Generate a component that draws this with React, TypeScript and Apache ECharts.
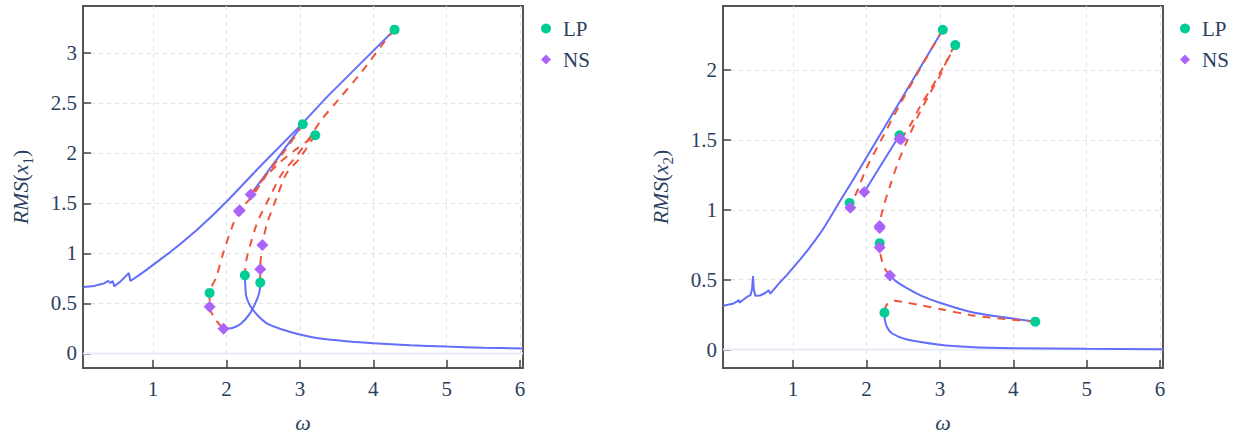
import React, { useEffect, useRef } from "react";
import * as echarts from "echarts";

const X_MIN = 0.045;
const X_MAX = 6.04;
const Y1_MIN = -0.145;
const Y1_MAX = 3.47;
const Y2_MIN = -0.132;
const Y2_MAX = 2.46;

const BLUE = "#636efa";
const RED = "#EF553B";
const GREEN = "#00cc96";
const PURPLE = "#ab63fa";
const FONT_COLOR = "#2a3f5f";
const SERIF = "Liberation Serif";

// ---------- Panel 1 : RMS(x1) ----------
const p1StableMain = [
  [0.05, 0.665], [0.2, 0.675], [0.27, 0.688], [0.33, 0.7], [0.39, 0.724], [0.42, 0.705],
  [0.45, 0.724], [0.47, 0.672], [0.55, 0.715], [0.67, 0.803], [0.69, 0.724], [0.8, 0.778],
  [0.9, 0.83], [1.0, 0.885], [1.1, 0.94], [1.23, 1.01], [1.4, 1.11], [1.6, 1.235],
  [1.82, 1.385], [2.02, 1.53], [2.46, 1.87], [3.0, 2.27], [3.38, 2.57], [4.29, 3.234],
];
const p1StableUpper = [[2.33, 1.587], [3.04, 2.29]];
const p1StableLoop = [
  [2.46, 0.708], [2.45, 0.62], [2.41, 0.53], [2.32, 0.4], [2.2, 0.3], [2.08, 0.255], [1.96, 0.247],
];
const p1StableTail = [
  [2.25, 0.78], [2.255, 0.7], [2.27, 0.57], [2.32, 0.48], [2.4, 0.4], [2.55, 0.3], [2.77, 0.237],
  [3.0, 0.19], [3.23, 0.154], [3.68, 0.12], [4.0, 0.103], [4.5, 0.083], [5.0, 0.069],
  [5.5, 0.058], [6.04, 0.05],
];
const p1Unstable1 = [
  [4.29, 3.234], [4.16, 3.12], [3.84, 2.81], [3.52, 2.53], [3.29, 2.33], [3.11, 2.13],
  [2.93, 1.95], [2.76, 1.8], [2.58, 1.55], [2.47, 1.39], [2.41, 1.29], [2.33, 1.1],
  [2.27, 0.93], [2.25, 0.78],
];
const p1Unstable2 = [
  [3.04, 2.29], [3.0, 2.24], [2.81, 2.04], [2.56, 1.8], [2.34, 1.56], [2.18, 1.43],
  [2.09, 1.29], [1.95, 0.99], [1.86, 0.76], [1.77, 0.605], [1.77, 0.467], [1.85, 0.34], [1.96, 0.247],
];
const p1Unstable3 = [
  [2.33, 1.587], [2.5, 1.74], [2.7, 1.89], [2.93, 2.03], [3.1, 2.12], [3.21, 2.18],
];
const p1Unstable4 = [
  [3.21, 2.18], [3.09, 2.05], [3.0, 1.95], [2.82, 1.8], [2.68, 1.55], [2.55, 1.29],
  [2.49, 1.083], [2.46, 0.84], [2.46, 0.708],
];
const p1LP = [[4.29, 3.234], [3.04, 2.29], [3.21, 2.18], [1.77, 0.605], [2.25, 0.78], [2.46, 0.708]];
const p1NS = [[2.33, 1.587], [2.18, 1.43], [2.17, 1.42], [1.77, 0.467], [1.96, 0.247], [2.46, 0.84], [2.49, 1.083]];

// ---------- Panel 2 : RMS(x2) ----------
const p2StableMain = [
  [0.05, 0.314], [0.19, 0.33], [0.24, 0.345], [0.26, 0.354], [0.27, 0.336], [0.33, 0.36],
  [0.37, 0.377], [0.42, 0.39], [0.44, 0.43], [0.454, 0.526], [0.465, 0.43], [0.486, 0.385],
  [0.55, 0.387], [0.62, 0.405], [0.667, 0.425], [0.69, 0.4], [0.826, 0.484], [0.92, 0.537],
  [1.007, 0.59], [1.1, 0.648], [1.2, 0.712], [1.3, 0.782], [1.4, 0.856], [1.5, 0.94],
  [1.6, 1.03], [1.7, 1.115], [1.8, 1.2], [3.04, 2.29],
];
const p2StableUpper = [[1.97, 1.128], [2.45, 1.534]];
const p2StableMid = [
  [2.32, 0.531], [2.4, 0.49], [2.55, 0.44], [2.75, 0.385], [3.0, 0.335], [3.41, 0.271],
  [3.82, 0.235], [4.3, 0.2],
];
const p2StableTail = [
  [2.245, 0.264], [2.25, 0.215], [2.28, 0.16], [2.35, 0.115], [2.55, 0.072], [3.0, 0.035],
  [3.41, 0.019], [4.0, 0.01], [5.0, 0.005], [6.04, 0.003],
];
const p2Unstable1 = [
  [4.3, 0.2], [3.82, 0.222], [3.41, 0.248], [3.0, 0.29], [2.73, 0.318], [2.5, 0.34],
  [2.37, 0.349], [2.3, 0.335], [2.26, 0.305], [2.245, 0.264],
];
const p2Unstable2 = [
  [3.04, 2.29], [2.96, 2.22], [2.73, 2.01], [2.46, 1.76], [2.2, 1.5], [2.0, 1.3],
  [1.87, 1.13], [1.82, 1.08], [1.77, 1.05], [1.78, 1.015],
];
const p2Unstable3 = [
  [2.47, 1.506], [2.59, 1.6], [2.73, 1.74], [2.87, 1.86], [3.0, 1.98], [3.12, 2.09], [3.21, 2.18],
];
const p2Unstable4 = [
  [3.21, 2.18], [3.14, 2.12], [3.0, 1.96], [2.87, 1.84], [2.71, 1.68], [2.55, 1.49],
  [2.43, 1.34], [2.32, 1.17], [2.22, 1.0], [2.18, 0.885], [2.18, 0.762], [2.18, 0.73],
  [2.21, 0.637], [2.25, 0.578], [2.32, 0.531],
];
const p2LP = [[4.3, 0.2], [3.04, 2.29], [3.21, 2.18], [1.77, 1.05], [2.18, 0.762], [2.245, 0.264], [2.45, 1.534]];
const p2NS = [[2.47, 1.506], [2.45, 1.51], [1.97, 1.128], [1.78, 1.015], [2.18, 0.885], [2.18, 0.87], [2.18, 0.73], [2.32, 0.531]];

const zeroLine = [[X_MIN, 0], [X_MAX, 0]];

function stable(data: number[][], gi: number, smooth: number | boolean = false) {
  return {
    type: "line", xAxisIndex: gi, yAxisIndex: gi, data, showSymbol: false, symbol: "none",
    smooth, silent: true, z: 3, lineStyle: { color: BLUE, width: 2 }, itemStyle: { color: BLUE },
  };
}
function unstable(data: number[][], gi: number) {
  return {
    type: "line", xAxisIndex: gi, yAxisIndex: gi, data, showSymbol: false, symbol: "none",
    smooth: 0.3, silent: true, z: 4, lineStyle: { color: RED, width: 2, type: [8, 7] }, itemStyle: { color: RED },
  };
}
function zero(gi: number) {
  return {
    type: "line", xAxisIndex: gi, yAxisIndex: gi, data: zeroLine, showSymbol: false, symbol: "none",
    silent: true, z: 1, lineStyle: { color: "#e6ecf6", width: 2 },
  };
}
function lp(data: number[][], gi: number) {
  return {
    type: "scatter", name: "LP", xAxisIndex: gi, yAxisIndex: gi, data, symbol: "circle",
    symbolSize: 10, z: 6, itemStyle: { color: GREEN, opacity: 1 },
  };
}
function ns(data: number[][], gi: number) {
  return {
    type: "scatter", name: "NS", xAxisIndex: gi, yAxisIndex: gi, data, symbol: "diamond",
    symbolSize: 12, z: 7, itemStyle: { color: PURPLE, opacity: 1 },
  };
}

const tickLabel = { fontFamily: SERIF, fontSize: 21, color: FONT_COLOR };
const splitLine = {
  show: true, showMinLine: false, showMaxLine: false,
  lineStyle: { type: [4, 4], color: "#e2e2e2", width: 1 },
};
const axisTick = { show: true, inside: true, length: 8, lineStyle: { color: "#444", width: 1.5 } };

function xAxis(gi: number) {
  return {
    type: "value", gridIndex: gi, min: X_MIN, max: X_MAX, splitNumber: 6,
    axisLine: { show: true, onZero: false, lineStyle: { color: "#555", width: 2 } },
    axisTick, splitLine,
    axisLabel: { ...tickLabel, margin: 10, showMinLabel: false, showMaxLabel: false },
    name: "ω", nameLocation: "middle", nameGap: 43,
    nameTextStyle: { fontFamily: SERIF, fontSize: 22, fontStyle: "italic", color: FONT_COLOR },
  };
}
function yAxis(gi: number, min: number, max: number, split: number, sub: string) {
  const base = { fontFamily: SERIF, fontSize: 22, color: FONT_COLOR, lineHeight: 30 };
  return {
    type: "value", gridIndex: gi, min, max, splitNumber: split,
    axisLine: { show: true, onZero: false, lineStyle: { color: "#555", width: 2 } },
    axisTick, splitLine,
    axisLabel: { ...tickLabel, margin: 6, showMinLabel: false, showMaxLabel: false },
    name: `{i|RMS}{r|(}{i|x}{s|${sub}}{r|)}`, nameLocation: "middle", nameGap: 48, nameRotate: 90,
    nameTextStyle: {
      ...base,
      rich: {
        i: { ...base, fontStyle: "italic" },
        r: { ...base },
        s: { fontFamily: SERIF, fontSize: 15, color: FONT_COLOR, lineHeight: 14, verticalAlign: "bottom" },
      },
    },
  };
}
function legend(left: number) {
  return {
    orient: "vertical", left, top: 18, padding: 0, itemWidth: 10, itemHeight: 10, itemGap: 10,
    data: [{ name: "LP", icon: "circle" }, { name: "NS", icon: "diamond" }],
    textStyle: { fontFamily: SERIF, fontSize: 21, color: FONT_COLOR, padding: [0, 0, 0, 7] },
  };
}

export default function App() {
  const ref = useRef<HTMLDivElement>(null);
  useEffect(() => {
    if (!ref.current) return;
    const chart = echarts.init(ref.current, null, { renderer: "svg" });
    chart.setOption({
      animation: false,
      backgroundColor: "#ffffff",
      textStyle: { fontFamily: SERIF, color: FONT_COLOR },
      grid: [
        { left: 83, top: 6, width: 440, height: 366, show: true, borderColor: "#555", borderWidth: 2, backgroundColor: "transparent" },
        { left: 723, top: 6, width: 440, height: 366, show: true, borderColor: "#555", borderWidth: 2, backgroundColor: "transparent" },
      ],
      legend: [legend(541), legend(1180)],
      xAxis: [xAxis(0), xAxis(1)],
      yAxis: [yAxis(0, Y1_MIN, Y1_MAX, 7, "1"), yAxis(1, Y2_MIN, Y2_MAX, 5, "2")],
      series: [
        zero(0),
        stable(p1StableMain, 0), stable(p1StableUpper, 0), stable(p1StableLoop, 0, 0.3), stable(p1StableTail, 0, 0.3),
        unstable(p1Unstable1, 0), unstable(p1Unstable2, 0), unstable(p1Unstable3, 0), unstable(p1Unstable4, 0),
        lp(p1LP, 0), ns(p1NS, 0),
        zero(1),
        stable(p2StableMain, 1), stable(p2StableUpper, 1), stable(p2StableMid, 1, 0.3), stable(p2StableTail, 1, 0.3),
        unstable(p2Unstable1, 1), unstable(p2Unstable2, 1), unstable(p2Unstable3, 1), unstable(p2Unstable4, 1),
        lp(p2LP, 1), ns(p2NS, 1),
      ],
    });
    return () => chart.dispose();
  }, []);
  return <div ref={ref} style={{ position: "fixed", left: 0, top: 0, width: 1242, height: 438 }} />;
}
